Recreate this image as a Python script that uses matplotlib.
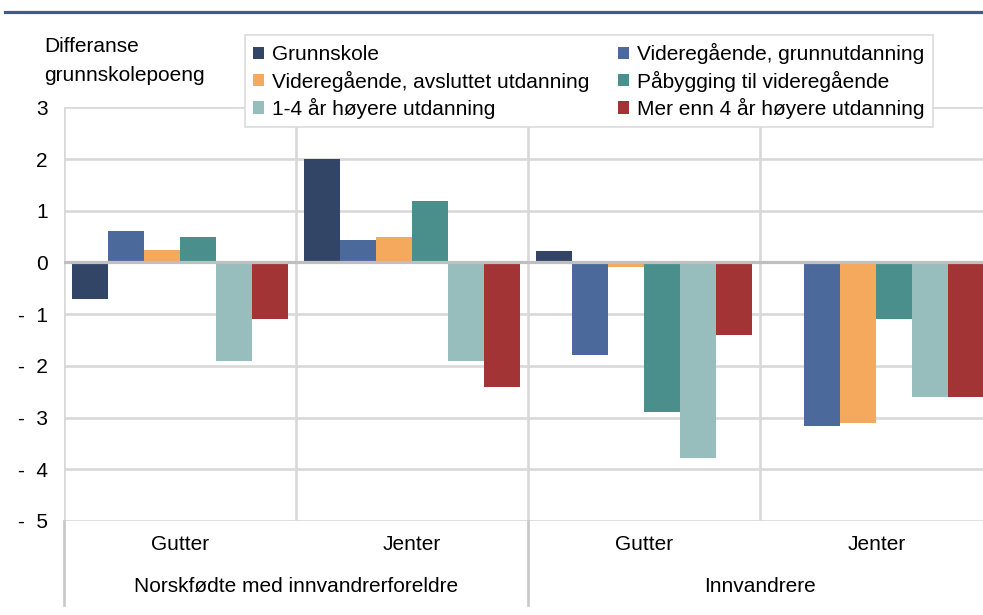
import numpy as np
import matplotlib
matplotlib.use('Agg')
from matplotlib import pyplot as plt
from matplotlib.lines import Line2D

plt.rcParams['font.family'] = ['Liberation Sans', 'DejaVu Sans']
plt.rcParams['font.size'] = 15

# ----- data ----- #
subgroups = ['Gutter', 'Jenter', 'Gutter', 'Jenter']
groups = ['Norskfødte med innvandrerforeldre', 'Innvandrere']
series = ['Grunnskole', 'Videregående, grunnutdanning', 'Videregående, avsluttet utdanning',
          'Påbygging til videregående', '1-4 år høyere utdanning', 'Mer enn 4 år høyere utdanning']
grunnskole = [-0.71, 2.00, 0.23, np.nan]
vg_grunn = [0.61, 0.43, -1.79, -3.17]
vg_avsluttet = [0.24, 0.50, -0.08, -3.10]
paabygging = [0.50, 1.19, -2.90, -1.09]
hoyere_1_4 = [-1.91, -1.91, -3.79, -2.60]
hoyere_4 = [-1.10, -2.41, -1.40, -2.60]
values = [grunnskole, vg_grunn, vg_avsluttet, paabygging, hoyere_1_4, hoyere_4]
colors = ['#334567', '#4B6A9B', '#F5A95D', '#4A8F8C', '#98BDBD', '#A33435']

fig = plt.figure(figsize=(9.83, 6.15), dpi=100)
W, H = 983, 615
ax = fig.add_axes([63.5 / W, 1 - 521 / H, (992.5 - 63.5) / W, (521 - 107.3) / H])

grid_c = '#D9D9D9'
x = np.arange(len(subgroups))
w = 0.155
bars = []
for i, (vals, c) in enumerate(zip(values, colors)):
    b = ax.bar(x + (i - 2.5) * w, vals, width=w, color=c, zorder=3, label=series[i])
    bars.append(b)

# gridlines
for yv in range(-5, 4):
    if yv == 0:
        continue
    ax.axhline(yv, color=grid_c, lw=1.9, zorder=1)
ax.axhline(0, color='#BFBFBF', lw=2.3, zorder=4)
for xv in np.arange(-0.5, 4, 1):
    ax.axvline(xv, color=grid_c, lw=1.9, zorder=1)

ax.set_xlim(-0.5, 3.5)
ax.set_ylim(-5, 3)
for s in ax.spines.values():
    s.set_visible(False)
ax.set_xticks([])
ax.set_yticks(range(-5, 4))
ax.set_yticklabels([f'-  {abs(v)}' if v < 0 else str(v) for v in range(-5, 4)])
ax.tick_params(axis='y', length=0, pad=11.5)

# kategori-aksen
ppu = 51.8
for xv in [-0.5, 1.5, 3.5]:
    ax.plot([xv, xv], [-5, -5 - 84 / ppu], color='#C8C8C8', lw=1.9, clip_on=False, zorder=1)
for i, lab in enumerate(subgroups):
    ax.text(x[i], -5 - 24 / ppu, lab, ha='center', va='center')
for j, lab in enumerate(groups):
    ax.text(0.5 + 2 * j, -5 - 66 / ppu, lab, ha='center', va='center')

# y-tittel
fig.text(44 / W, 1 - 52 / H, 'Differanse', ha='left', va='baseline')
fig.text(44 / W, 1 - 81 / H, 'grunnskolepoeng', ha='left', va='baseline')

# legend
order = [0, 2, 4, 1, 3, 5]
leg = ax.legend([bars[k] for k in order], [series[k] for k in order],
                loc='upper left', bbox_to_anchor=(245 / W, 1 - 35 / H),
                bbox_transform=fig.transFigure, ncol=2, frameon=True, fancybox=False,
                edgecolor=grid_c, framealpha=1, borderaxespad=0, borderpad=0.4,
                handlelength=0.53, handleheight=0.53, handletextpad=0.38,
                columnspacing=1.35, labelspacing=0.3)
leg.get_frame().set_linewidth(1.1)
leg.set_zorder(10)

# topplinje
fig.add_artist(Line2D([5 / W, 1], [1 - 11.5 / H] * 2, color='#3E5C8A', lw=2.3))

plt.savefig('out.png', dpi=100, facecolor='white')
